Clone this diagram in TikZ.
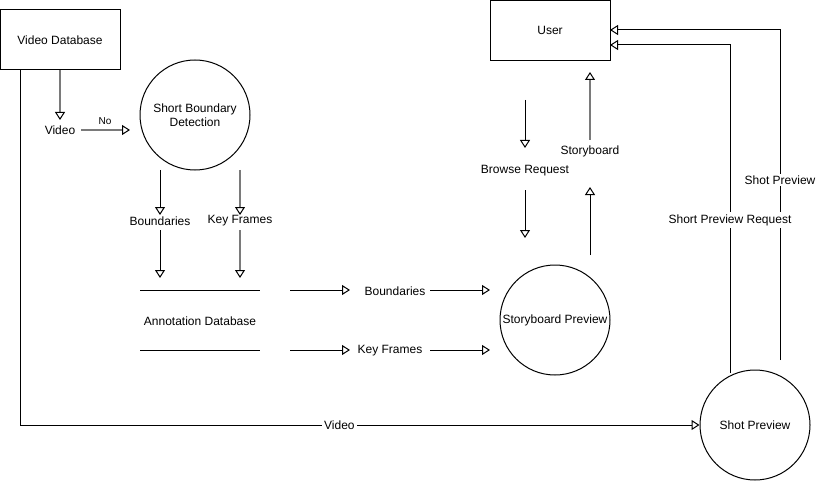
\documentclass[tikz,border=0pt]{standalone}
\usepackage{fontspec}
\setmainfont{Liberation Sans}
\usetikzlibrary{arrows.meta}
\definecolor{edgegray}{HTML}{7A7A7A}
\begin{document}
\begin{tikzpicture}[x=1pt,y=-1pt,
  every node/.style={font=\fontsize{12}{14}\selectfont},
  box/.style={draw,line width=1pt,minimum width=120pt,minimum height=60pt,inner sep=0pt},
  proc/.style={draw,circle,line width=1pt,minimum size=110pt,inner sep=0pt,align=center},
  lbl/.style={inner sep=1pt},
  lblw/.style={inner sep=2pt,fill=white},
  flow/.style={line width=1pt,-{Triangle[open,length=8pt,width=10pt]}},
  gflow/.style={draw=edgegray,line width=1.6pt,-{Triangle[open,length=8pt,width=10pt,color=black,line width=1pt]}},
  plain/.style={line width=1pt}
]
\useasboundingbox (0,0) rectangle (821,481);
% main nodes
\node[box] (vdb) at (60,40) {Video Database};
\node[proc] (sbd) at (195,115) {Short Boundary\\Detection};
\node[box] (user) at (550,30.5) {User};
\node[proc] (spv) at (555,320) {Storyboard Preview};
\node[proc] (shp) at (755,425) {Shot Preview};
% labels
\node[lbl] (video1) at (60,130.5) {Video};
\node[lbl,font=\fontsize{10}{12}\selectfont] (no) at (105,121) {No};
\node[lbl] (bnd1) at (160,221) {Boundaries};
\node[lbl] (kf1) at (240,221) {Key Frames};
\node[lbl] (adb) at (200,321) {Annotation Database};
\node[lbl] (bnd2) at (395,291) {Boundaries};
\node[lbl] (kf2) at (390,351) {Key Frames};
\node[lbl] (brq) at (525,171) {Browse Request};
\node[lbl] (sb) at (590,151) {Storyboard};
% coordinates
\coordinate (c1) at (81,130);
\coordinate (c2) at (130,130);
\coordinate (b1) at (160,170);
\coordinate (b2) at (160,215);
\coordinate (b3) at (160,230);
\coordinate (b4) at (160,278);
\coordinate (k1) at (240,170);
\coordinate (k2) at (240,215);
\coordinate (k3) at (240,230);
\coordinate (k4) at (240,278);
\coordinate (a1) at (140,290);
\coordinate (a2) at (260,290);
\coordinate (a3) at (140,350);
\coordinate (a4) at (260,350);
\coordinate (h1) at (290,290);
\coordinate (h2) at (350,290);
\coordinate (h3) at (430,290);
\coordinate (h4) at (490,290);
\coordinate (g1) at (290,350);
\coordinate (g2) at (350,350);
\coordinate (g3) at (430,350);
\coordinate (g4) at (490,350);
\coordinate (r1) at (525,100);
\coordinate (r2) at (525,148);
\coordinate (r3) at (525,190);
\coordinate (r4) at (525,238);
\coordinate (s1) at (590,255);
\coordinate (s2) at (590,187);
\coordinate (s3) at (590,140);
\coordinate (s4) at (590,72);
\coordinate (vd) at (20,70);
\coordinate (u1) at (610,30);
\coordinate (u2) at (610,45);
\coordinate (p1) at (780,360);
\coordinate (p2) at (730,373);
% edges
\draw[gflow] (vdb.south) -- (60,120);
\draw[gflow] (c1) -- (c2);
\draw[flow] (b1) -- (b2);
\draw[flow] (b3) -- (b4);
\draw[gflow] (k1) -- (k2);
\draw[gflow] (k3) -- (k4);
\draw[plain] (a1) -- (a2);
\draw[plain] (a3) -- (a4);
\draw[flow] (h1) -- (h2);
\draw[flow] (h3) -- (h4);
\draw[flow] (g1) -- (g2);
\draw[flow] (g3) -- (g4);
\draw[flow] (r1) -- (r2);
\draw[flow] (r3) -- (r4);
\draw[flow] (s1) -- (s2);
\draw[gflow] (s3) -- (s4);
\draw[flow] (vd) |- (shp.west) node[lblw,pos=0.735] {Video};
\draw[flow] (p1) |- (u1);
\draw[flow] (p2) |- (u2);
\node[lblw] (spl) at (780,180) {Shot Preview};
\node[lblw] (sprq) at (730,220) {Short Preview Request};
\end{tikzpicture}
\end{document}
